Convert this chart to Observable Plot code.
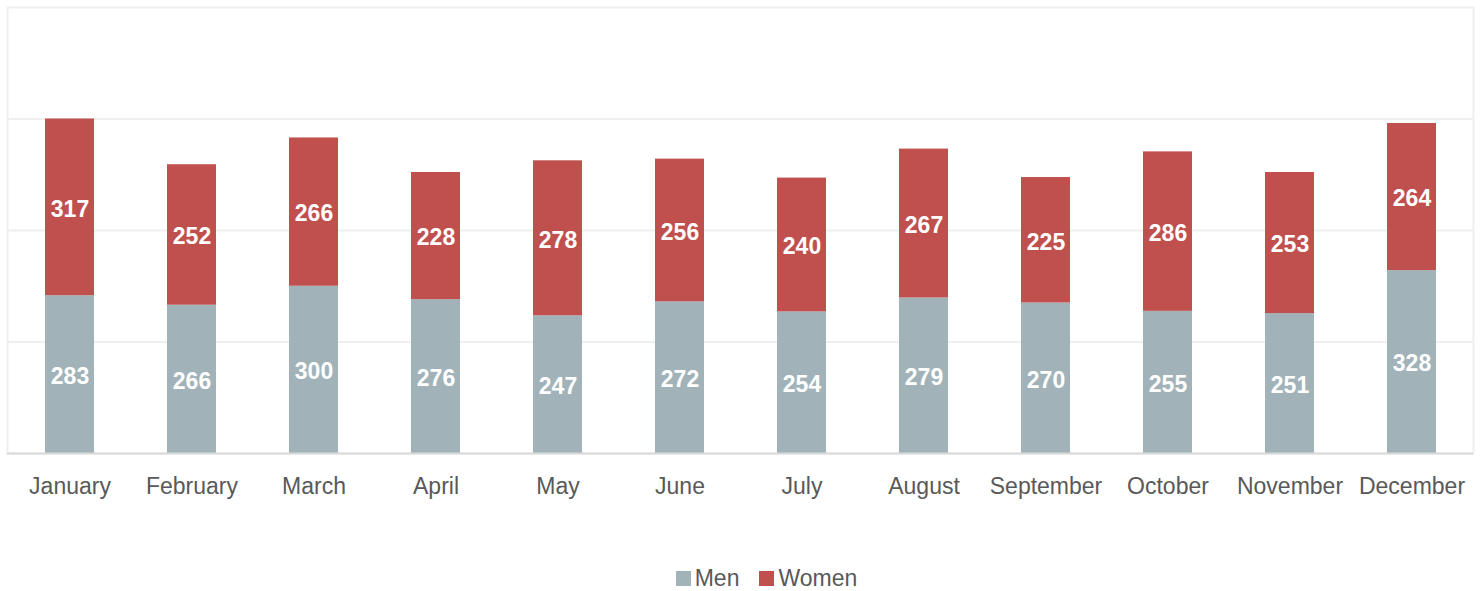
<!DOCTYPE html>
<html>
<head>
<meta charset="utf-8">
<script src="https://cdn.jsdelivr.net/npm/d3@7"></script>
<script src="https://cdn.jsdelivr.net/npm/@observablehq/plot@0.6"></script>
<style>
  body { margin: 0; background: #fff; font-family: "Liberation Sans", Arial, sans-serif; }
  #legend { display: flex; justify-content: center; gap: 20px; font-size: 23px; color: #595959; padding-left: 50px; margin-top: 45px; }
  .item { display: flex; align-items: center; gap: 4px; }
  .sw { width: 15px; height: 15px; display: inline-block; }
</style>
</head>
<body>
<div id="chart"></div>
<div id="legend"></div>
<script>
const months = ["January","February","March","April","May","June","July","August","September","October","November","December"];
const men   = [283, 266, 300, 276, 247, 272, 254, 279, 270, 255, 251, 328];
const women = [317, 252, 266, 228, 278, 256, 240, 267, 225, 286, 253, 264];
const seriesNames = ["Men", "Women"];
const seriesColors = ["#a1b3b9", "#c0504d"];
const gridTicks = [200, 400, 600];

const data = [];
months.forEach((m, i) => {
  data.push({month: m, series: "Men", value: men[i]});
  data.push({month: m, series: "Women", value: women[i]});
});

const chart = Plot.plot({
  width: 1483,
  height: 520,
  marginTop: 7,
  marginBottom: 67,
  marginLeft: 7,
  marginRight: 10,
  style: {fontFamily: "'Liberation Sans', Arial, sans-serif", background: "#fff"},
  x: {domain: months, paddingInner: 0.6, paddingOuter: 0.3, label: null},
  y: {domain: [0, 800], axis: null},
  color: {domain: seriesNames, range: seriesColors},
  marks: [
    Plot.frame({stroke: "#efefef", strokeWidth: 2}),
    Plot.ruleY(gridTicks, {stroke: "#efefef", strokeWidth: 2}),
    Plot.barY(data, {x: "month", y: "value", fill: "series", order: seriesNames}),
    Plot.text(data, Plot.stackY({x: "month", y: "value", z: "series", order: seriesNames, text: "value", fill: "white", fontWeight: "bold", fontSize: 23, dy: 2})),
    Plot.ruleY([0], {stroke: "#d9d9d9", strokeWidth: 2}),
    Plot.axisX({tickSize: 0, tickPadding: 24, fontSize: 23, color: "#595959", label: null})
  ]
});
document.getElementById("chart").appendChild(chart);

const legend = document.getElementById("legend");
seriesNames.forEach((s, i) => {
  const it = document.createElement("div");
  it.className = "item";
  const sw = document.createElement("span");
  sw.className = "sw";
  sw.style.background = seriesColors[i];
  const t = document.createElement("span");
  t.textContent = s;
  it.appendChild(sw); it.appendChild(t);
  legend.appendChild(it);
});
</script>
</body>
</html>
